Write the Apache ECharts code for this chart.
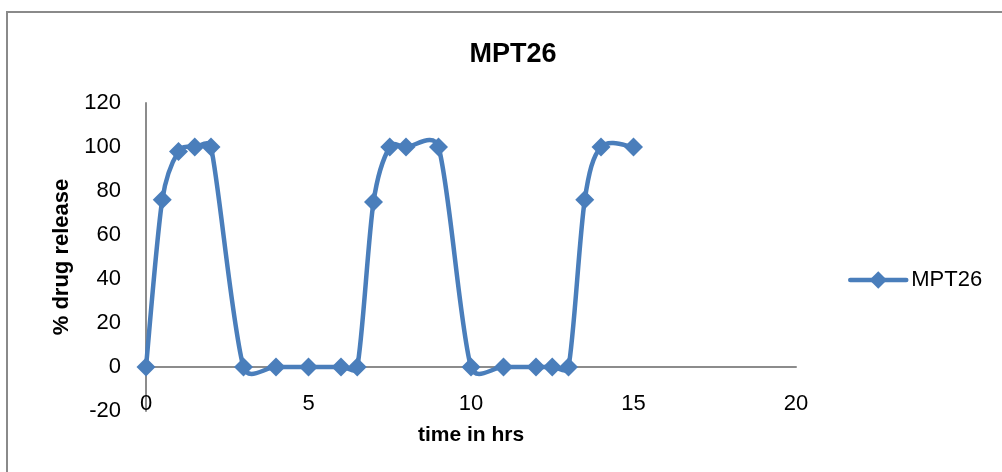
<!DOCTYPE html>
<html>
<head>
<meta charset="utf-8">
<title>MPT26</title>
<script src="https://cdn.jsdelivr.net/npm/echarts@6/dist/echarts.min.js"></script>
<style>
  html, body { margin: 0; padding: 0; background: #ffffff; }
  #chart { width: 1002px; height: 472px; }
</style>
</head>
<body>
<div id="chart"></div>
<script>
// Pulsatile release profile of MPT26
const seriesName = 'MPT26';
const times = [0, 0.5, 1, 1.5, 2, 3, 4, 5, 6, 6.5, 7, 7.5, 8, 9, 10, 11, 12, 12.5, 13, 13.5, 14, 15];
const release = [0, 76, 98, 100, 100, 0, 0, 0, 0, 0, 75, 100, 100, 100, 0, 0, 0, 0, 0, 76, 100, 100];
const xTicks = { min: 0, max: 20, step: 5 };
const yTicks = { min: -20, max: 120, step: 20 };

const points = times.map((t, i) => [t, release[i]]);
const font = 'Liberation Sans';
const lineBlue = '#4A7EBB';
const axisGray = '#8C8C8C';
// Catmull-Rom style tension of the connecting curve
const tension = 1 / 6;

const dist = (a, b) => Math.hypot(b[0] - a[0], b[1] - a[1]);

// Control arm along (to - from) * tension, never longer than half the segment.
function arm(from, to, segLen) {
  let dx = (to[0] - from[0]) * tension;
  let dy = (to[1] - from[1]) * tension;
  const len = Math.hypot(dx, dy);
  const cap = segLen / 2;
  if (len > cap && len > 0) {
    dx *= cap / len;
    dy *= cap / len;
  }
  return [dx, dy];
}

// Draws the smoothed segment leaving point i (pixel space, via the axes).
function renderSegment(params, api) {
  const i = params.dataIndexInside;
  const n = params.dataInsideLength;
  if (i >= n - 1) return null;
  const pt = (k) => {
    const j = Math.max(0, Math.min(n - 1, k));
    return api.coord([api.value(0, j), api.value(1, j)]);
  };
  const p0 = pt(i - 1), p1 = pt(i), p2 = pt(i + 1), p3 = pt(i + 2);
  const d12 = dist(p1, p2);
  const a1 = arm(p0, p2, d12);
  const a2 = arm(p1, p3, d12);
  return {
    type: 'bezierCurve',
    shape: {
      x1: p1[0], y1: p1[1],
      cpx1: p1[0] + a1[0], cpy1: p1[1] + a1[1],
      cpx2: p2[0] - a2[0], cpy2: p2[1] - a2[1],
      x2: p2[0], y2: p2[1]
    },
    style: { stroke: lineBlue, lineWidth: 4.5, fill: null, lineCap: 'round', lineJoin: 'round' },
    silent: true
  };
}

const chart = echarts.init(document.getElementById('chart'), null, { renderer: 'canvas' });
chart.setOption({
  backgroundColor: '#ffffff',
  animation: false,
  title: {
    text: 'MPT26',
    left: 508,
    textAlign: 'center',
    top: 36,
    textStyle: { fontFamily: font, fontSize: 27, fontWeight: 'bold', color: '#000000' }
  },
  graphic: [{
    type: 'rect',
    shape: { x: 7, y: 12, width: 1010, height: 480 },
    style: { fill: 'none', stroke: '#8A8A8A', lineWidth: 2 },
    silent: true
  }],
  legend: {
    left: 848,
    top: 269,
    padding: 0,
    itemWidth: 56,
    itemHeight: 22,
    itemGap: 4,
    data: [seriesName],
    lineStyle: { color: lineBlue, width: 4.5, opacity: 1, cap: 'round' },
    itemStyle: { color: lineBlue, opacity: 1 },
    textStyle: { fontFamily: font, fontSize: 22, color: '#000000' }
  },
  grid: { left: 146, right: 206, top: 103, bottom: 61, containLabel: false, outerBoundsMode: 'none' },
  xAxis: {
    type: 'value',
    min: xTicks.min,
    max: xTicks.max,
    interval: xTicks.step,
    name: 'time in hrs',
    nameLocation: 'middle',
    nameGap: 14,
    nameTextStyle: { fontFamily: font, fontSize: 21, fontWeight: 'bold', color: '#000000' },
    axisLine: { show: true, onZero: true, lineStyle: { color: axisGray, width: 2 } },
    axisTick: { show: false },
    splitLine: { show: false },
    axisLabel: { margin: -18, fontFamily: font, fontSize: 22, color: '#000000' }
  },
  yAxis: {
    type: 'value',
    min: yTicks.min,
    max: yTicks.max,
    interval: yTicks.step,
    name: '% drug release',
    nameLocation: 'middle',
    nameGap: 73,
    nameTextStyle: { fontFamily: font, fontSize: 22, fontWeight: 'bold', color: '#000000' },
    axisLine: { show: true, lineStyle: { color: axisGray, width: 2 } },
    axisTick: { show: false },
    splitLine: { show: false },
    axisLabel: { margin: 25, fontFamily: font, fontSize: 22, color: '#000000', padding: [8, 0, 0, 0] }
  },
  series: [
    {
      name: seriesName + ' curve',
      type: 'custom',
      data: points,
      encode: { x: 0, y: 1 },
      renderItem: renderSegment,
      clip: false,
      z: 2
    },
    {
      name: seriesName,
      type: 'line',
      data: points,
      symbol: 'diamond',
      symbolSize: 19,
      showAllSymbol: true,
      lineStyle: { width: 0, opacity: 0 },
      itemStyle: { color: lineBlue },
      z: 3
    }
  ]
});
</script>
</body>
</html>
